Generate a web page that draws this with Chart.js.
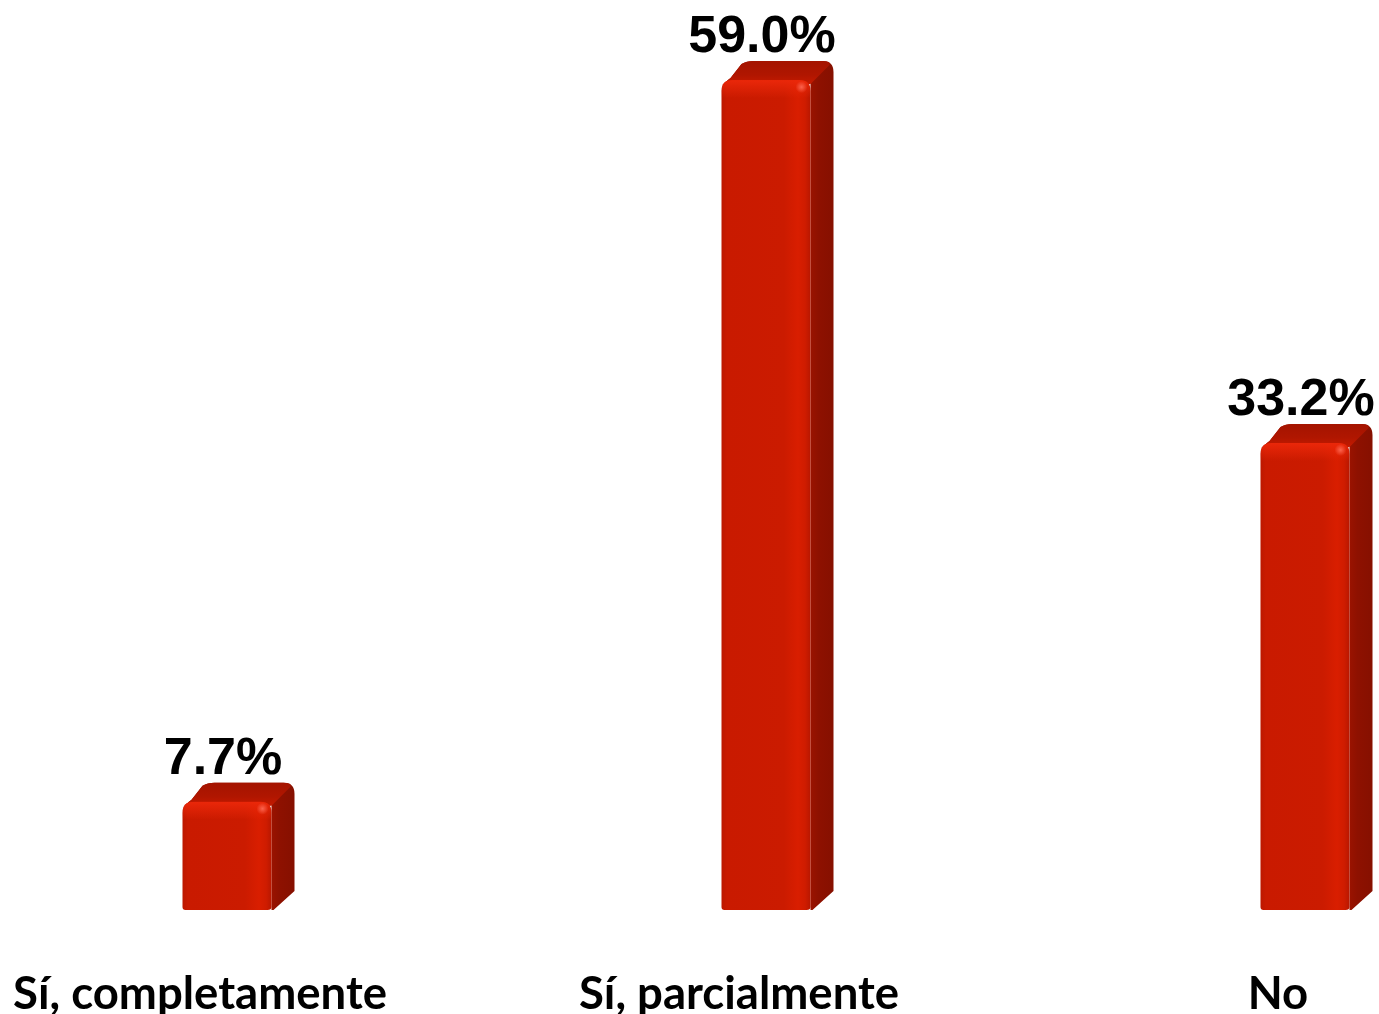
<!DOCTYPE html>
<html lang="es">
<head>
<meta charset="utf-8">
<title>Sí, completamente / Sí, parcialmente / No</title>
<script src="https://cdn.jsdelivr.net/npm/chart.js@4/dist/chart.umd.min.js"></script>
<style>
  html, body { margin: 0; padding: 0; background: #ffffff; }
  #wrap { width: 1379px; height: 1014px; }
</style>
</head>
<body>
<div id="wrap"><canvas id="chart" width="1379" height="1014"></canvas></div>
<script>
// Answer categories and their shares (%)
const categories = ['Sí, completamente', 'Sí, parcialmente', 'No'];
const values = [7.7, 59.0, 33.2];
const valueLabels = values.map(v => v.toFixed(1) + '%');

// Extruded look of each bar
const DEPTH_X = 23;
const DEPTH_Y = -19;

function drawBar3d(ctx, x, y, base, width) {
  const xl = x - width / 2;
  const xr = x + width / 2;
  const r = 11;
  const dx = DEPTH_X, dy = DEPTH_Y;

  // side + top silhouette
  ctx.save();
  ctx.beginPath();
  ctx.moveTo(xl + 1, y + 8);
  ctx.quadraticCurveTo(xl + 3, y + 2, xl + 9, y - 2);
  ctx.lineTo(xl + dx - 3, y + dy + 3);
  ctx.quadraticCurveTo(xl + dx + 2, y + dy, xl + dx + 9, y + dy);
  ctx.lineTo(xr + dx - r, y + dy);
  ctx.quadraticCurveTo(xr + dx, y + dy, xr + dx, y + dy + r);
  ctx.lineTo(xr + dx, base + dy);
  ctx.lineTo(xr + 2, base);
  ctx.lineTo(xr, base);
  ctx.lineTo(xr, y);
  ctx.closePath();
  const sideGrad = ctx.createLinearGradient(xr, 0, xr + dx, 0);
  sideGrad.addColorStop(0, '#9a1300');
  sideGrad.addColorStop(0.35, '#8e1100');
  sideGrad.addColorStop(1, '#861000');
  ctx.fillStyle = sideGrad;
  ctx.fill();

  // top face
  ctx.beginPath();
  ctx.moveTo(xl + 1, y + 8);
  ctx.quadraticCurveTo(xl + 3, y + 2, xl + 9, y - 2);
  ctx.lineTo(xl + dx - 3, y + dy + 3);
  ctx.quadraticCurveTo(xl + dx + 2, y + dy, xl + dx + 9, y + dy);
  ctx.lineTo(xr + dx - r, y + dy);
  ctx.quadraticCurveTo(xr + dx - 2, y + dy, xr + dx - 4, y + dy + 4);
  ctx.lineTo(xr, y + 4);
  ctx.closePath();
  const topGrad = ctx.createLinearGradient(0, y + dy, 0, y + 4);
  topGrad.addColorStop(0, '#a41400');
  topGrad.addColorStop(0.6, '#b01600');
  topGrad.addColorStop(1, '#c41a00');
  ctx.fillStyle = topGrad;
  ctx.fill();

  // front face, rounded at the top
  ctx.beginPath();
  ctx.moveTo(xl, base - 3);
  ctx.lineTo(xl, y + r);
  ctx.quadraticCurveTo(xl, y, xl + r, y);
  ctx.lineTo(xr - r, y);
  ctx.quadraticCurveTo(xr, y, xr, y + r);
  ctx.lineTo(xr, base - 3);
  ctx.quadraticCurveTo(xr, base, xr - 4, base);
  ctx.lineTo(xl + 3, base);
  ctx.quadraticCurveTo(xl, base, xl, base - 3);
  ctx.closePath();
  const frontGrad = ctx.createLinearGradient(xl, 0, xr, 0);
  frontGrad.addColorStop(0, '#bc1800');
  frontGrad.addColorStop(0.06, '#c91a00');
  frontGrad.addColorStop(0.7, '#cb1b00');
  frontGrad.addColorStop(0.86, '#d91e00');
  frontGrad.addColorStop(0.94, '#cf1c00');
  frontGrad.addColorStop(1, '#b81700');
  ctx.fillStyle = frontGrad;
  ctx.fill();

  // rounded bevel along the top edge
  ctx.clip();
  const bevel = ctx.createLinearGradient(0, y, 0, y + 18);
  bevel.addColorStop(0, 'rgba(236,40,10,0.95)');
  bevel.addColorStop(1, 'rgba(236,40,10,0)');
  ctx.fillStyle = bevel;
  ctx.fillRect(xl, y, width, 18);
  const spot = ctx.createRadialGradient(xr - 9, y + 7, 0, xr - 9, y + 7, 6);
  spot.addColorStop(0, 'rgba(255,110,90,0.85)');
  spot.addColorStop(1, 'rgba(255,110,90,0)');
  ctx.fillStyle = spot;
  ctx.fillRect(xr - 18, y, 18, 16);
  ctx.restore();
}

const bar3dPlugin = {
  id: 'bar3d',
  afterDatasetsDraw(chart) {
    const ctx = chart.ctx;
    const meta = chart.getDatasetMeta(0);
    meta.data.forEach((el, i) => {
      const p = el.getProps(['x', 'y', 'base', 'width'], true);
      drawBar3d(ctx, p.x, p.y, p.base, p.width);
      ctx.save();
      ctx.font = 'bold 52px "Liberation Sans", Arial, sans-serif';
      ctx.fillStyle = '#000000';
      ctx.textAlign = 'center';
      ctx.textBaseline = 'alphabetic';
      ctx.fillText(valueLabels[i], p.x - 4, p.y - 28);
      ctx.restore();
    });
  }
};

new Chart(document.getElementById('chart'), {
  type: 'bar',
  data: {
    labels: categories,
    datasets: [{
      data: values,
      backgroundColor: 'rgba(0,0,0,0)',
      borderWidth: 0,
      barThickness: 89
    }]
  },
  options: {
    responsive: false,
    animation: false,
    events: [],
    layout: { padding: { left: 227, right: 74, top: 66, bottom: 0 } },
    plugins: {
      legend: { display: false },
      tooltip: { enabled: false },
      title: { display: false }
    },
    scales: {
      x: {
        offset: false,
        grid: { display: false, drawTicks: false },
        border: { display: false },
        afterFit(scale) { scale.height = 104; scale.paddingLeft = 0; scale.paddingRight = 0; },
        ticks: {
          autoSkip: false,
          maxRotation: 0,
          minRotation: 0,
          labelOffset: -27,
          padding: 57,
          color: '#000000',
          font: { family: 'Lato, "Open Sans", sans-serif', weight: 'bold', size: 45.5 }
        }
      },
      y: {
        display: false,
        min: 0,
        max: 60
      }
    }
  },
  plugins: [bar3dPlugin]
});
</script>
</body>
</html>
